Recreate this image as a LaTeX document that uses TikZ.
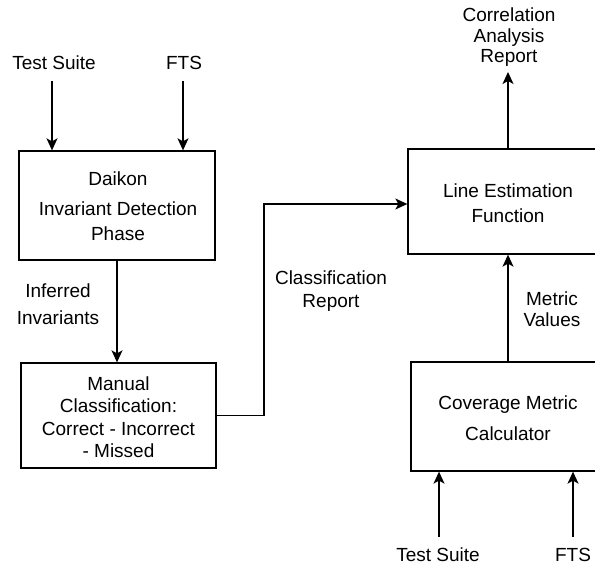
\documentclass[tikz,border=0pt]{standalone}
\usepackage{fontspec}
\setmainfont{Liberation Sans}
\usetikzlibrary{arrows.meta}
\begin{document}
\begin{tikzpicture}[x=1bp,y=-1bp,
  every node/.style={font=\fontsize{19bp}{22.5bp}\selectfont, inner sep=0pt, align=center},
  box/.style={draw, line width=1.3bp, rectangle},
  arr/.style={line width=1.3bp, -{Stealth[length=12bp,width=11bp,inset=3bp]}}
]
\useasboundingbox (0,0) rectangle (595,565);
\clip (0,0) rectangle (595,565);

% boxes
\node[box, minimum width=196bp, minimum height=109bp] (b1) at (117,205.5) {};
\node (t1) at (118,206) {Daikon\\[8bp]Invariant Detection\\[2bp]Phase};
\node[box, minimum width=195bp, minimum height=105bp] (b2) at (118.5,415.5) {};
\node (t2) at (118.5,417) {Manual\\Classification:\\Correct - Incorrect\\- Missed};
\node[box, minimum width=200bp, minimum height=105bp] (b3) at (508,201.5) {};
\node (t3) at (508,203) {Line Estimation\\[2bp]Function};
\node[box, minimum width=195bp, minimum height=109bp] (b4) at (508.5,416.5) {};
\node (t4) at (508,418) {Coverage Metric\\[8bp]Calculator};

% labels
\node (ts1) at (54,63) {Test Suite};
\node (fts1) at (184,63) {FTS};
\node (corr) at (509,37.5) {Correlation\\[-2bp]Analysis\\[-2bp]Report};
\node (inf) at (58,304) {Inferred\\[4bp]Invariants};
\node (cls) at (331,291) {Classification\\Report};
\node (mv) at (552,309) {Metric\\[-1bp]Values};
\node (ts2) at (438,555) {Test Suite};
\node (fts2) at (573,555) {FTS};

% coordinates
\coordinate (ts1s) at (52,81);
\coordinate (fts1s) at (183,81);
\coordinate (corrE) at (508,72);
\coordinate (c1) at (264,204);
\coordinate (ts2s) at (439,537);
\coordinate (fts2s) at (573,537);

% connectors
\draw[arr] (ts1s) -- (ts1s |- b1.north);
\draw[arr] (fts1s) -- (fts1s |- b1.north);
\draw[arr] (b1.south) -- (b1.south |- b2.north);
\draw[arr] (b2.east) -| (c1) -- (c1 -| b3.west);
\draw[arr] (b3.north) -- (corrE);
\draw[arr] (b4.north -| b3.south) -- (b3.south);
\draw[arr] (ts2s) -- (ts2s |- b4.south);
\draw[arr] (fts2s) -- (fts2s |- b4.south);
\end{tikzpicture}
\end{document}
